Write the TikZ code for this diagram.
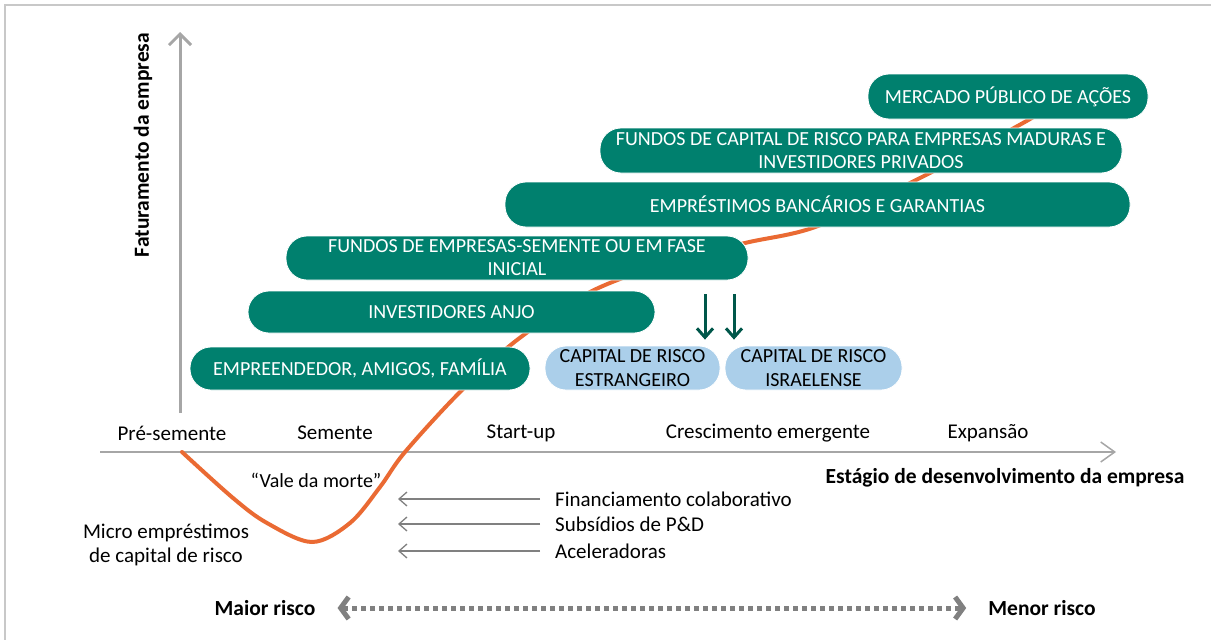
\documentclass[tikz,border=0pt]{standalone}
\usepackage{fontspec}
\setmainfont{Carlito}
\usetikzlibrary{arrows.meta}
\definecolor{tealbox}{HTML}{00806E}
\definecolor{darkarr}{HTML}{00574A}
\definecolor{lblue}{HTML}{ABCFEA}
\definecolor{curveorange}{HTML}{EA6A33}
\definecolor{axisgray}{HTML}{A6A6A6}
\definecolor{framegray}{HTML}{C8C8C8}
\definecolor{arrgray}{HTML}{808080}
\begin{document}
\begin{tikzpicture}[x=1pt,y=-1pt,
  gbox/.style={fill=tealbox, draw=white, line width=0.8pt, rounded corners=21pt, text=white,
    font=\fontsize{20}{23}\selectfont, align=center, inner sep=0pt},
  bbox/.style={fill=lblue, draw=white, line width=0.8pt, rounded corners=21pt, text=black,
    font=\fontsize{20}{23.5}\selectfont, align=center, inner sep=0pt,
    minimum height=44pt},
  lbl/.style={font=\fontsize{21}{24}\selectfont, inner sep=0pt, align=center},
  blbl/.style={font=\bfseries\fontsize{21.5}{24}\selectfont, inner sep=0pt},
  yaxis/.style={draw=axisgray, line width=3pt, -{Straight Barb[length=11pt,width=22pt]}},
  xaxis/.style={draw=axisgray, line width=1.5pt, -{Straight Barb[length=14pt,width=20pt]}},
  larrow/.style={draw=arrgray, line width=1.3pt, -{Straight Barb[length=8pt,width=14pt]}},
  darrow/.style={draw=darkarr, line width=3pt, -{Straight Barb[length=9pt,width=16pt]}},
  riskarrow/.style={draw=arrgray, line width=5pt, dash pattern=on 5pt off 4pt,
    {Straight Barb[length=8pt,width=22pt]}-{Straight Barb[length=8pt,width=22pt]}},
  curvestyle/.style={draw=curveorange, line width=4pt, line cap=round}
]
\path[use as bounding box] (0,0) rectangle (1211,640);
% frame
\draw[framegray, line width=2pt] (5,640) -- (5,5) -- (1211,5);

% axes
\coordinate (yfoot) at (180,413);
\coordinate (ytop) at (180,32);
\draw[yaxis] (yfoot) -- (ytop);
\coordinate (xstart) at (100,452);
\coordinate (xend) at (1116,452);
\draw[xaxis] (xstart) -- (xend);

\node[blbl, rotate=90] (ylab) at (143,145) {Faturamento da empresa};
\node[blbl] (xlab) at (1005,478) {Estágio de desenvolvimento da empresa};

% stage labels
\node[lbl] (s1) at (172,433) {Pré-semente};
\node[lbl] (s2) at (335,433) {Semente};
\node[lbl] (s3) at (521,433) {Start-up};
\node[lbl] (s4) at (768,433) {Crescimento emergente};
\node[lbl] (s5) at (988,433) {Expansão};

% curve
\draw[curvestyle] plot[smooth, tension=0.55] coordinates {(182,452) (233,498) (267,523) (312,542) (350,523) (380,487) (405,452) (460,392) (517,340) (590,292) (670,262) (745,243) (818,226) (920,178) (1023,123) (1065,97)};

% green boxes
\node[gbox, minimum width=340pt, minimum height=43pt] (b1) at (360,368.5) {EMPREENDEDOR, AMIGOS, FAMÍLIA};
\node[gbox, minimum width=407pt, minimum height=42pt] (b2) at (451.5,312) {INVESTIDORES ANJO};
\node[gbox, minimum width=462pt, minimum height=44pt] (b3) at (517,258) {FUNDOS DE EMPRESAS-SEMENTE OU EM FASE\\INICIAL};
\node[gbox, minimum width=625pt, minimum height=45pt] (b4) at (817.5,204.5) {EMPRÉSTIMOS BANCÁRIOS E GARANTIAS};
\node[gbox, minimum width=522pt, minimum height=45pt] (b5) at (861,150.5) {FUNDOS DE CAPITAL DE RISCO PARA EMPRESAS MADURAS E\\INVESTIDORES PRIVADOS};
\node[gbox, minimum width=280pt, minimum height=45pt] (b6) at (1008,96.5) {MERCADO PÚBLICO DE AÇÕES};

% blue boxes
\node[bbox, minimum width=175pt] (e1) at (632.5,368) {CAPITAL DE RISCO\\ESTRANGEIRO};
\node[bbox, minimum width=177pt] (e2) at (813.5,368) {CAPITAL DE RISCO\\ISRAELENSE};

% dark arrows
\coordinate (d1) at (705,294);
\coordinate (d2) at (734,294);
\draw[darrow] (d1) -- ([yshift=6pt]d1 |- e1.north);
\draw[darrow] (d2) -- ([yshift=6pt]d2 |- e2.north);

% valley labels
\node[lbl, font=\fontsize{20}{24}\selectfont] (vale) at (316,480) {“Vale da morte”};
\node[lbl] (micro) at (166,545) {Micro empréstimos\\de capital de risco};

% left arrows and labels
\node[lbl, anchor=west] (f1) at (555,499) {Financiamento colaborativo};
\node[lbl, anchor=west] (f2) at (555,524) {Subsídios de P\&D};
\node[lbl, anchor=west] (f3) at (555,551) {Aceleradoras};
\coordinate (t1) at (398,499);
\coordinate (t2) at (398,524);
\coordinate (t3) at (398,551);
\draw[larrow] ([xshift=-15pt]f1.west) -- (t1);
\draw[larrow] ([xshift=-15pt]f2.west) -- (t2);
\draw[larrow] ([xshift=-15pt]f3.west) -- (t3);

% risk
\node[blbl] (maior) at (265,608) {Maior risco};
\node[blbl] (menor) at (1042,608) {Menor risco};
\draw[riskarrow] ([xshift=22pt]maior.east) -- ([xshift=-22pt]menor.west);
\end{tikzpicture}
\end{document}
